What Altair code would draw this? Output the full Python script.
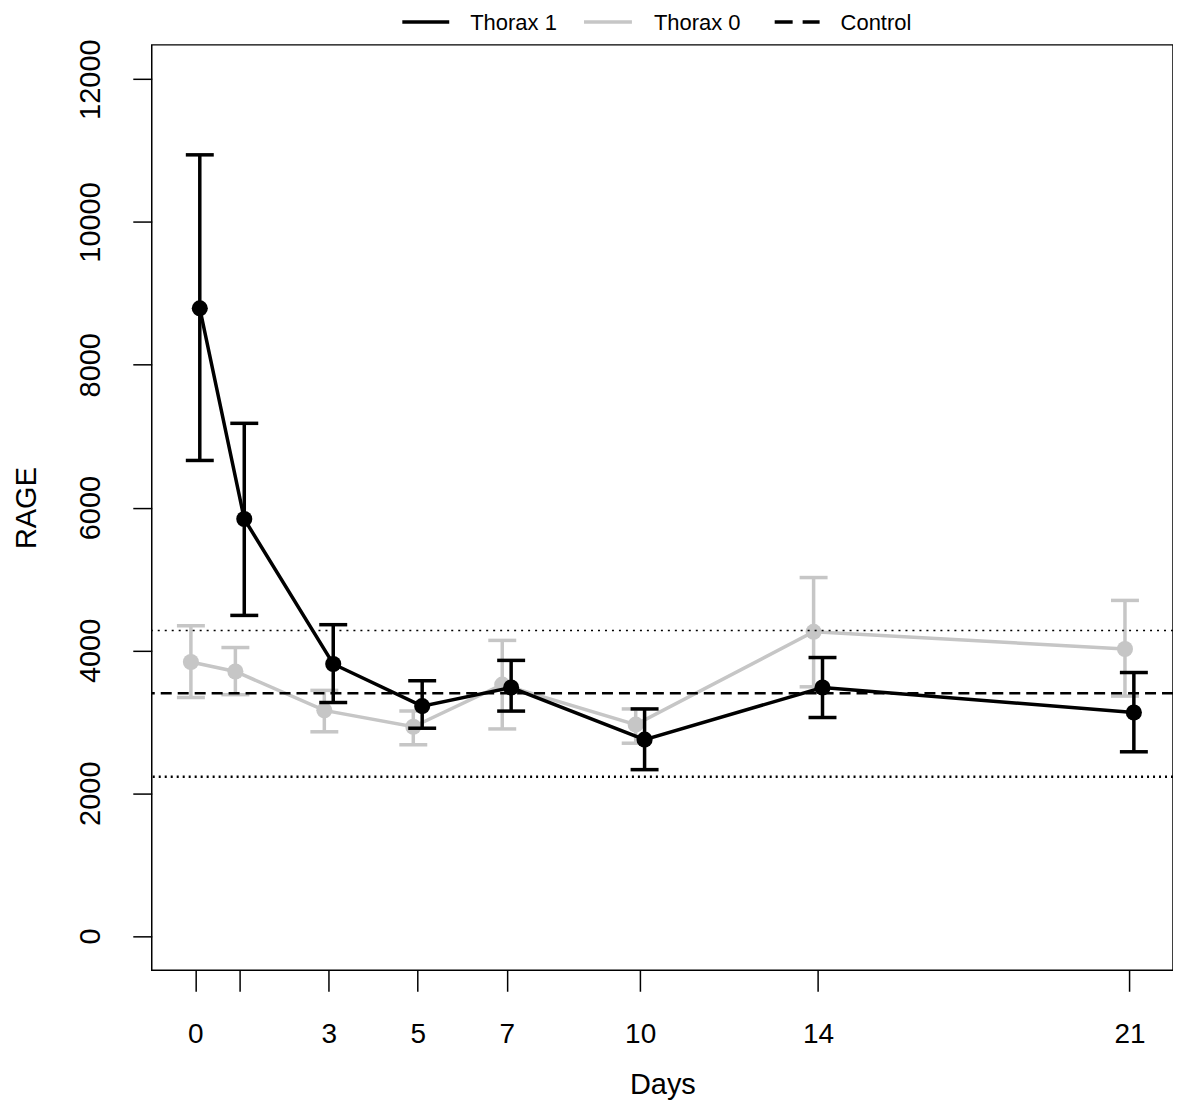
import altair as alt
import pandas as pd

# ---- data ----
days = [0, 1, 3, 5, 7, 10, 14, 21]

thorax1_mean = [8790, 5840, 3810, 3220, 3480, 2750, 3480, 3130]
thorax1_lo = [6660, 4490, 3270, 2910, 3150, 2330, 3060, 2580]
thorax1_hi = [10940, 7180, 4360, 3575, 3860, 3180, 3900, 3690]

thorax0_mean = [3837, 3705, 3160, 2930, 3520, 2960, 4260, 4020]
thorax0_lo = [3340, 3380, 2860, 2680, 2900, 2700, 3490, 3360]
thorax0_hi = [4346, 4040, 3440, 3150, 4140, 3180, 5020, 4700]

control_mean = [3400]
control_limits = [4280, 2230]

series_names = ["Thorax 1", "Thorax 0", "Control"]
x_ticks = [0, 1, 3, 5, 7, 10, 14, 21]
y_ticks = [0, 2000, 4000, 6000, 8000, 10000, 12000]

# ---- tables ----
t1 = pd.DataFrame({"day": days, "mean": thorax1_mean, "lo": thorax1_lo, "hi": thorax1_hi})
t0 = pd.DataFrame({"day": days, "mean": thorax0_mean, "lo": thorax0_lo, "hi": thorax0_hi})

W, H = 1023, 927
FONT = "Liberation Sans"
BLACK = "#000000"
GRAY = "#c6c6c6"
LW = 3.5

xs = alt.Scale(domain=[-0.98, 21.98], nice=False, zero=False)
ys = alt.Scale(domain=[-480, 12480], nice=False, zero=False)

xaxis = alt.Axis(
    values=x_ticks, labelExpr="datum.value == 1 ? '' : datum.label",
    title="Days", grid=False, domain=False,
    tickSize=21, tickWidth=1.5, tickColor=BLACK,
    labelFont=FONT, labelFontSize=28, labelColor=BLACK,
    labelBaseline="alphabetic", labelAlign="center", labelPadding=51,
    labelFlush=False, labelOverlap=False,
    titleFont=FONT, titleFontSize=29, titleFontWeight="normal", titleColor=BLACK,
    titleBaseline="alphabetic", titleAlign="center", titleX=W / 2, titleY=123,
)
yaxis = alt.Axis(
    values=y_ticks, format="d", title="RAGE", grid=False, domain=False,
    tickSize=19, tickWidth=1.5, tickColor=BLACK,
    labelFont=FONT, labelFontSize=29, labelColor=BLACK,
    labelAngle=270, labelAlign="center", labelBaseline="alphabetic", labelPadding=33,
    labelFlush=False, labelOverlap=False,
    titleFont=FONT, titleFontSize=29, titleFontWeight="normal", titleColor=BLACK,
    titleAngle=270, titleAlign="center", titleBaseline="alphabetic",
    titleX=-116, titleY=H / 2,
)


def X():
    return alt.X("xd:Q", scale=xs, axis=xaxis)


def Y(field):
    return alt.Y(f"{field}:Q", scale=ys, axis=yaxis)


def series(df, color, offset):
    base = alt.Chart(df).transform_calculate(xd=f"datum.day + ({offset})")
    bars = base.mark_rule(color=color, strokeWidth=LW).encode(x=X(), y=Y("lo"), y2="hi:Q")
    cap_lo = base.mark_tick(color=color, orient="horizontal", size=28, thickness=LW, opacity=1).encode(
        x=X(), y=Y("lo")
    )
    cap_hi = base.mark_tick(color=color, orient="horizontal", size=28, thickness=LW, opacity=1).encode(
        x=X(), y=Y("hi")
    )
    line = base.mark_line(color=color, strokeWidth=LW).encode(x=X(), y=Y("mean"))
    pts = base.mark_circle(color=color, size=260, opacity=1).encode(x=X(), y=Y("mean"))
    return [bars, cap_lo, cap_hi, line, pts]


ctrl_mean = alt.Chart(pd.DataFrame({"v": control_mean})).mark_rule(
    color=BLACK, strokeWidth=2.5, strokeDash=[11, 6]
).encode(y=Y("v"))
ctrl_up = alt.Chart(pd.DataFrame({"v": control_limits[:1]})).mark_rule(
    color=BLACK, strokeWidth=1.5, strokeDash=[2, 5]
).encode(y=Y("v"))
ctrl_lo = alt.Chart(pd.DataFrame({"v": control_limits[1:]})).mark_rule(
    color=BLACK, strokeWidth=2.5, strokeDash=[2, 4]
).encode(y=Y("v"))

# ---- legend (top margin) ----
leg_y, txt_y = -23, -15
legend_layers = []
for x0, x1, txt_x, name, color, dash in [
    (251, 298, 319, series_names[0], BLACK, None),
    (433, 481, 503, series_names[1], GRAY, None),
    (624, 669, 690, series_names[2], BLACK, [18, 10]),
]:
    kw = dict(color=color, strokeWidth=LW)
    if dash:
        kw["strokeDash"] = dash
    legend_layers.append(
        alt.Chart(pd.DataFrame({"a": [0]})).mark_rule(**kw).encode(
            x=alt.value(x0), x2=alt.value(x1), y=alt.value(leg_y)
        )
    )
    legend_layers.append(
        alt.Chart(pd.DataFrame({"a": [0]})).mark_text(
            align="left", baseline="alphabetic", font=FONT, fontSize=22, color=BLACK
        ).encode(x=alt.value(txt_x), y=alt.value(txt_y), text=alt.value(name))
    )

layers = (
    series(t0, GRAY, -0.1)
    + [ctrl_up, ctrl_mean, ctrl_lo]
    + series(t1, BLACK, 0.1)
    + legend_layers
)

chart = alt.layer(*layers).properties(
    width=W, height=H,
    autosize=alt.AutoSizeParams(type="none"),
    padding={"left": 144, "top": 36, "right": 0, "bottom": 130},
    background="white",
).configure_view(stroke=BLACK, strokeWidth=1.5)

chart.save("out.html", embed_options={"renderer": "svg", "actions": False})
